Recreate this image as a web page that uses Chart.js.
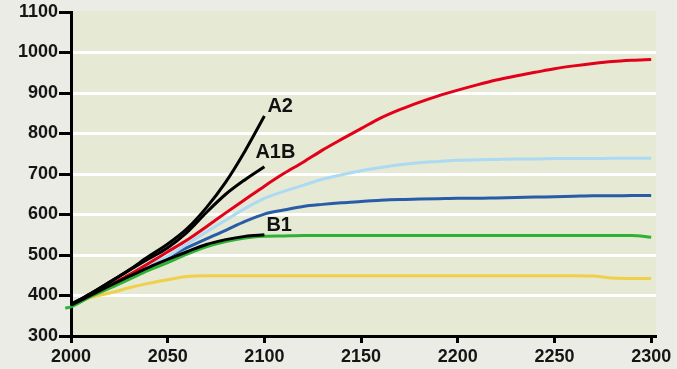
<!DOCTYPE html>
<html>
<head>
<meta charset="utf-8">
<script src="https://cdn.jsdelivr.net/npm/chart.js@4/dist/chart.umd.min.js"></script>
<style>
  html, body { margin: 0; padding: 0; background: #ecece6; }
  #c { display: block; }
</style>
</head>
<body>
<canvas id="c" width="677" height="369"></canvas>
<script>
// CO2 concentration (ppm): stabilisation profiles to 2300 and SRES scenarios to 2100
const years = [2000, 2010, 2020, 2030, 2040, 2050, 2060, 2070, 2080, 2090,
               2100, 2110, 2120, 2130, 2140, 2150, 2160, 2170, 2180, 2190,
               2200, 2210, 2220, 2230, 2240, 2250, 2260, 2270, 2280, 2290, 2300];
const s550Years = [1997, 2000, 2010, 2020, 2030, 2040, 2050, 2060, 2070, 2080, 2090,
                   2100, 2110, 2120, 2130, 2140, 2150, 2160, 2170, 2180, 2190,
                   2200, 2210, 2220, 2230, 2240, 2250, 2260, 2270, 2280, 2290, 2300];
const sresYears = [2000, 2010, 2020, 2030, 2040, 2050, 2060, 2070, 2080, 2090, 2100];

const s1000 = [376, 399, 425, 451, 479, 508, 537, 570, 604, 637,
               670, 701, 729, 759, 786, 812, 838, 859, 877, 893,
               907, 920, 932, 942, 951, 960, 967, 973, 978, 981, 983];
const s750  = [376, 399, 423, 448, 473, 497, 527, 557, 586, 615,
               640, 657, 672, 687, 698, 708, 716, 723, 728, 731,
               734, 735, 736, 737, 737, 738, 738, 738, 739, 739, 739];
const s650  = [376, 399, 422, 446, 470, 495, 518, 540, 561, 583,
               601, 611, 620, 625, 629, 632, 635, 637, 638, 639,
               640, 640, 641, 642, 643, 644, 645, 646, 646, 647, 647];
const s550  = [369, 372, 397, 418, 440, 462, 481, 502, 520, 533, 542,
               546, 547, 548, 548, 548, 548, 548, 548, 548, 548,
               548, 548, 548, 548, 548, 548, 548, 548, 548, 548, 544];
const s450  = [374, 395, 406, 419, 430, 439, 447, 449, 449, 449,
               449, 449, 449, 449, 449, 449, 449, 449, 449, 449,
               449, 449, 449, 449, 449, 449, 449, 448, 443, 442, 442];

const sresA2  = [378, 404, 433, 463, 496, 527, 565, 617, 680, 757, 843];
const sresA1B = [378, 404, 433, 462, 490, 518, 556, 605, 650, 686, 718];
const sresB1  = [376, 400, 424, 447, 469, 489, 508, 526, 538, 546, 550];

const xTicks = [2000, 2050, 2100, 2150, 2200, 2250, 2300];
const yTicks = [300, 400, 500, 600, 700, 800, 900, 1000, 1100];

const toPoints = (xs, ys) => xs.map((x, i) => ({ x: x, y: ys[i] }));

const tickFont = { family: '"Liberation Sans", Arial, sans-serif', size: 18, weight: 'bold' };

// fills the page and the plotting area
const plotBackground = {
  id: 'plotBackground',
  beforeDraw(chart) {
    const { ctx, chartArea: a } = chart;
    ctx.save();
    ctx.fillStyle = '#ecece6';
    ctx.fillRect(0, 0, chart.width, chart.height);
    ctx.fillStyle = '#e6e9d3';
    ctx.fillRect(a.left, a.top - 1, a.right - a.left, a.bottom - a.top + 1);
    ctx.restore();
  }
};

// names written next to the end of each SRES curve
const scenarioLabels = {
  id: 'scenarioLabels',
  afterDatasetsDraw(chart) {
    const { ctx } = chart;
    const xs = chart.scales.x, ys = chart.scales.y;
    const items = [
      { text: 'A2',  data: sresA2,  dx: 3,  dy: -4 },
      { text: 'A1B', data: sresA1B, dx: -9, dy: -9 },
      { text: 'B1',  data: sresB1,  dx: 2,  dy: -4 }
    ];
    ctx.save();
    ctx.font = 'bold 20px "Liberation Sans", Arial, sans-serif';
    ctx.fillStyle = '#111';
    ctx.textAlign = 'left';
    ctx.textBaseline = 'alphabetic';
    items.forEach(it => {
      const last = it.data.length - 1;
      const px = xs.getPixelForValue(sresYears[last]);
      const py = ys.getPixelForValue(it.data[last]);
      ctx.fillText(it.text, px + it.dx, py + it.dy);
    });
    ctx.restore();
  }
};

const line = (label, xs, ys, color, extra) => Object.assign({
  label: label,
  data: toPoints(xs, ys),
  borderColor: color,
  backgroundColor: color,
  borderWidth: 3,
  pointRadius: 0,
  fill: false,
  cubicInterpolationMode: 'monotone'
}, extra || {});

new Chart(document.getElementById('c'), {
  type: 'line',
  data: {
    datasets: [
      line('A2', sresYears, sresA2, '#000000'),
      line('A1B', sresYears, sresA1B, '#000000'),
      line('B1', sresYears, sresB1, '#000000'),
      line('550', s550Years, s550, '#2db136', { clip: false }),
      line('1000', years, s1000, '#e2001a'),
      line('750', years, s750, '#acdaf4'),
      line('650', years, s650, '#285ca6'),
      line('450', years, s450, '#f0d04a')
    ]
  },
  options: {
    responsive: false,
    animation: false,
    layout: { padding: { top: 12, right: 21, bottom: 0, left: 0 } },
    plugins: { legend: { display: false }, tooltip: { enabled: false } },
    scales: {
      x: {
        type: 'linear',
        min: 2000,
        max: 2302.5,
        afterBuildTicks(s) { s.ticks = xTicks.map(v => ({ value: v })); },
        afterFit(s) { s.height = 33; s.paddingLeft = 0; s.paddingRight = 0; },
        border: { display: true, color: '#000', width: 3 },
        grid: { drawOnChartArea: false, drawTicks: true, tickColor: '#000', tickWidth: 3, tickLength: 7 },
        ticks: { font: tickFont, color: '#151515', padding: 3, maxRotation: 0, autoSkip: false,
                 callback: v => String(v) }
      },
      y: {
        min: 300,
        max: 1100,
        afterBuildTicks(s) { s.ticks = yTicks.map(v => ({ value: v })); },
        afterFit(s) { s.width = 71; s.paddingTop = 0; s.paddingBottom = 0; },
        border: { display: true, color: '#000', width: 3 },
        grid: {
          color: c => (c.tick && (c.tick.value === 300 || c.tick.value === 1100)) ? 'rgba(0,0,0,0)' : '#ffffff',
          lineWidth: 3,
          tickColor: '#000',
          tickWidth: 3,
          tickLength: 12
        },
        ticks: { font: tickFont, color: '#151515', padding: 1, autoSkip: false,
                 callback: v => String(v) }
      }
    }
  },
  plugins: [plotBackground, scenarioLabels]
});
</script>
</body>
</html>
